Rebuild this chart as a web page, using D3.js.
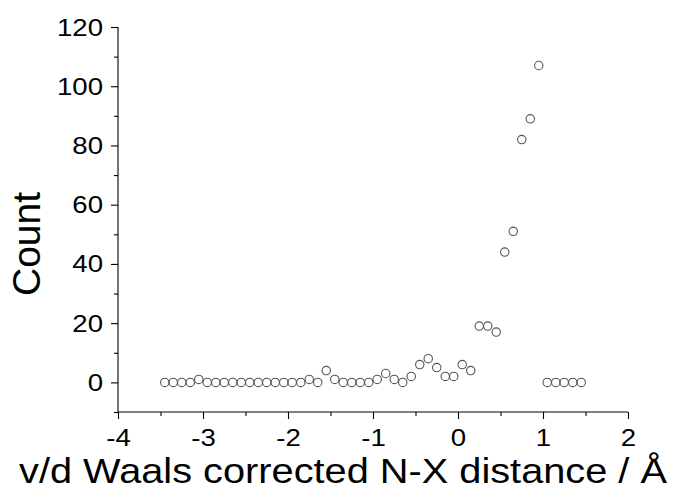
<!DOCTYPE html>
<html>
<head>
<meta charset="utf-8">
<script src="https://cdn.jsdelivr.net/npm/d3@7"></script>
<style>
  body { margin: 0; background: #fff; }
  text { font-family: "Liberation Sans", Arial, sans-serif; fill: #000; }
</style>
</head>
<body>
<div id="chart"></div>
<script>
var svgWidth = 678;
var svgHeight = 491;

// bin centres (v/d Waals corrected N-X distance, Å)
var distance = [
  -3.45, -3.35, -3.25, -3.15, -3.05, -2.95, -2.85, -2.75, -2.65, -2.55,
  -2.45, -2.35, -2.25, -2.15, -2.05, -1.95, -1.85, -1.75, -1.65, -1.55,
  -1.45, -1.35, -1.25, -1.15, -1.05, -0.95, -0.85, -0.75, -0.65, -0.55,
  -0.45, -0.35, -0.25, -0.15, -0.05, 0.05, 0.15, 0.25, 0.35, 0.45,
  0.55, 0.65, 0.75, 0.85, 0.95, 1.05, 1.15, 1.25, 1.35, 1.45
];

var count = [
  0, 0, 0, 0, 1, 0, 0, 0, 0, 0,
  0, 0, 0, 0, 0, 0, 0, 1, 0, 4,
  1, 0, 0, 0, 0, 1, 3, 1, 0, 2,
  6, 8, 5, 2, 2, 6, 4, 19, 19, 17,
  44, 51, 82, 89, 107, 0, 0, 0, 0, 0
];

var xTicks = [-4, -3, -2, -1, 0, 1, 2];
var xMinor = [-3.5, -2.5, -1.5, -0.5, 0.5, 1.5];
var yTicks = [0, 20, 40, 60, 80, 100, 120];
var yMinor = [-10, 10, 30, 50, 70, 90, 110];

var Data = distance.map(function(d, i) {
  return { x: d, y: count[i] };
});

var stretch = 1.2;

var svg = d3.select("#chart")
  .append("svg")
  .attr("width", svgWidth)
  .attr("height", svgHeight);

var xScale = d3.scaleLinear()
  .domain([-4, 2])
  .range([118, 628]);

var yScale = d3.scaleLinear()
  .domain([-10, 120])
  .range([412, 27]);

// x axis
var xAxis = svg.append("g")
  .attr("transform", "translate(0, 412)")
  .call(d3.axisBottom(xScale).tickValues(xTicks).tickSize(7).tickFormat(d => String(d)));

svg.append("g")
  .attr("transform", "translate(0, 412)")
  .call(d3.axisBottom(xScale).tickValues(xMinor).tickSize(4).tickFormat(""))
  .select(".domain").remove();

// y axis
var yAxis = svg.append("g")
  .attr("transform", "translate(118, 0)")
  .call(d3.axisLeft(yScale).tickValues(yTicks).tickSize(7).tickFormat(d => String(d)));

svg.append("g")
  .attr("transform", "translate(118, 0)")
  .call(d3.axisLeft(yScale).tickValues(yMinor).tickSize(4).tickFormat(""))
  .select(".domain").remove();

xAxis.select(".domain").attr("d", "M118,0H628");
yAxis.select(".domain").attr("d", "M0,27V412");

svg.selectAll(".tick line").attr("stroke", "#000").attr("stroke-width", 1.1);
svg.selectAll(".domain").attr("stroke", "#000").attr("stroke-width", 1.1);

xAxis.selectAll("text")
  .attr("font-size", 23)
  .attr("y", 34.5)
  .attr("dy", 0)
  .attr("transform", `scale(${stretch}, 1)`);

yAxis.selectAll("text")
  .attr("font-size", 23)
  .attr("x", -15 / stretch)
  .attr("dy", "0.35em")
  .attr("transform", `scale(${stretch}, 1)`);

// points
svg.append("g")
  .selectAll("circle")
  .data(Data)
  .enter()
  .append("circle")
  .attr("cx", d => xScale(d.x))
  .attr("cy", d => yScale(d.y))
  .attr("r", 4.2)
  .attr("fill", "none")
  .attr("stroke", "#555")
  .attr("stroke-width", 1.1);

// axis titles
svg.append("text")
  .attr("transform", "translate(40, 244) rotate(-90)")
  .attr("text-anchor", "middle")
  .attr("font-size", 39)
  .text("Count");

svg.append("text")
  .attr("transform", "translate(343, 483) scale(1.136, 1)")
  .attr("text-anchor", "middle")
  .attr("font-size", 35)
  .text("v/d Waals corrected N-X distance / Å");
</script>
</body>
</html>
